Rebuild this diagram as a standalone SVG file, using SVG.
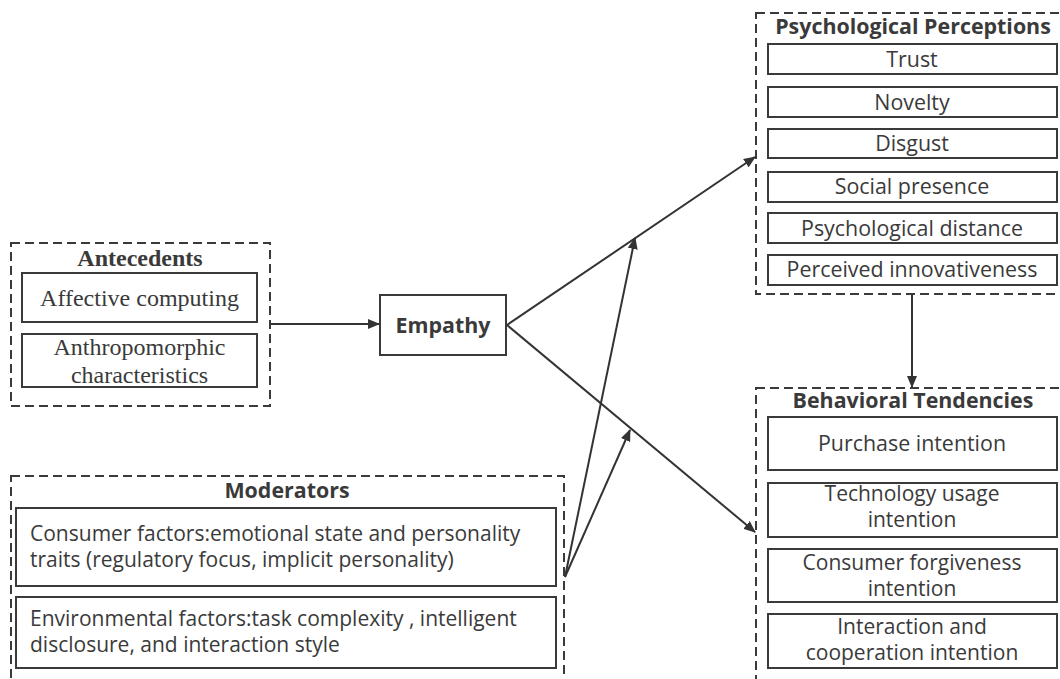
<svg xmlns="http://www.w3.org/2000/svg" width="1060" height="679" viewBox="0 0 1060 679">
<defs>
<style>
.dash{fill:none;stroke:#3a3a3a;stroke-width:2;stroke-dasharray:9 5}
.box{fill:#fff;stroke:#3a3a3a;stroke-width:2}
.t{font-family:"Open Sans","Noto Sans",sans-serif;font-size:21.4px;fill:#3a3a3a}
.m{font-size:21px}
.tc{text-anchor:middle}
.b{font-weight:bold}
.s{font-family:"Liberation Serif",serif;font-size:24px;fill:#3a3a3a;text-anchor:middle}
.ln{fill:none;stroke:#333;stroke-width:2;marker-end:url(#ah)}
</style>
<marker id="ah" viewBox="0 0 12 10" refX="11" refY="5" markerWidth="12" markerHeight="10" markerUnits="userSpaceOnUse" orient="auto">
<path d="M0,0 L12,5 L0,10 Z" fill="#333"/>
</marker>
</defs>
<rect width="1060" height="679" fill="#fff"/>

<g id="antecedents">
<rect class="dash" x="11" y="243" width="259" height="163"/>
<text class="s b" x="140" y="266">Antecedents</text>
<rect class="box" x="22" y="273" width="235" height="49"/>
<text class="s" x="139.5" y="306">Affective computing</text>
<rect class="box" x="22" y="334" width="235" height="53"/>
<text class="s" x="139.5" y="355">Anthropomorphic<tspan x="139.5" dy="28">characteristics</tspan></text>
</g>

<g id="empathy">
<rect class="box" x="380" y="295" width="126" height="60"/>
<text class="t tc b" x="443" y="333">Empathy</text>
</g>

<g id="psychological">
<rect class="dash" x="756" y="13" width="310" height="281"/>
<text class="t tc b" x="913" y="34">Psychological Perceptions</text>
<rect class="box" x="768" y="44" width="289" height="30"/>
<text class="t tc" x="912" y="67">Trust</text>
<rect class="box" x="768" y="87" width="289" height="30"/>
<text class="t tc" x="912" y="110">Novelty</text>
<rect class="box" x="768" y="129" width="289" height="29"/>
<text class="t tc" x="912" y="151">Disgust</text>
<rect class="box" x="768" y="172" width="289" height="30"/>
<text class="t tc" x="912" y="194">Social presence</text>
<rect class="box" x="768" y="213" width="289" height="30"/>
<text class="t tc" x="912" y="236">Psychological distance</text>
<rect class="box" x="768" y="255" width="289" height="30"/>
<text class="t tc" x="912" y="277">Perceived innovativeness</text>
</g>

<g id="behavioral">
<rect class="dash" x="756" y="388" width="310" height="300"/>
<text class="t tc b" x="913" y="408">Behavioral Tendencies</text>
<rect class="box" x="768" y="417" width="289" height="53"/>
<text class="t tc" x="912" y="451">Purchase intention</text>
<rect class="box" x="768" y="483" width="289" height="54"/>
<text class="t m tc" x="912" y="501">Technology usage<tspan x="912" dy="26">intention</tspan></text>
<rect class="box" x="768" y="549" width="289" height="53"/>
<text class="t m tc" x="912" y="570">Consumer forgiveness<tspan x="912" dy="26">intention</tspan></text>
<rect class="box" x="768" y="614" width="289" height="54"/>
<text class="t m tc" x="912" y="634">Interaction and<tspan x="912" dy="26">cooperation intention</tspan></text>
</g>

<g id="moderators">
<rect class="dash" x="11" y="476" width="553" height="220"/>
<text class="t tc b" x="287" y="498">Moderators</text>
<rect class="box" x="16" y="508" width="540" height="78"/>
<text class="t m" x="30" y="541">Consumer factors:emotional state and personality<tspan x="30" dy="26">traits (regulatory focus, implicit personality)</tspan></text>
<rect class="box" x="16" y="597" width="540" height="71"/>
<text class="t m" x="30" y="626">Environmental factors:task complexity , intelligent<tspan x="30" dy="26">disclosure, and interaction style</tspan></text>
</g>

<g id="connectors">
<line class="ln" x1="271" y1="324" x2="379" y2="324"/>
<line class="ln" x1="507" y1="325" x2="755" y2="157"/>
<line class="ln" x1="507" y1="325" x2="755" y2="532"/>
<line class="ln" x1="912" y1="295" x2="912" y2="387"/>
<line class="ln" x1="565" y1="577" x2="635" y2="238"/>
<line class="ln" x1="565" y1="577" x2="630" y2="430"/>
</g>
</svg>
